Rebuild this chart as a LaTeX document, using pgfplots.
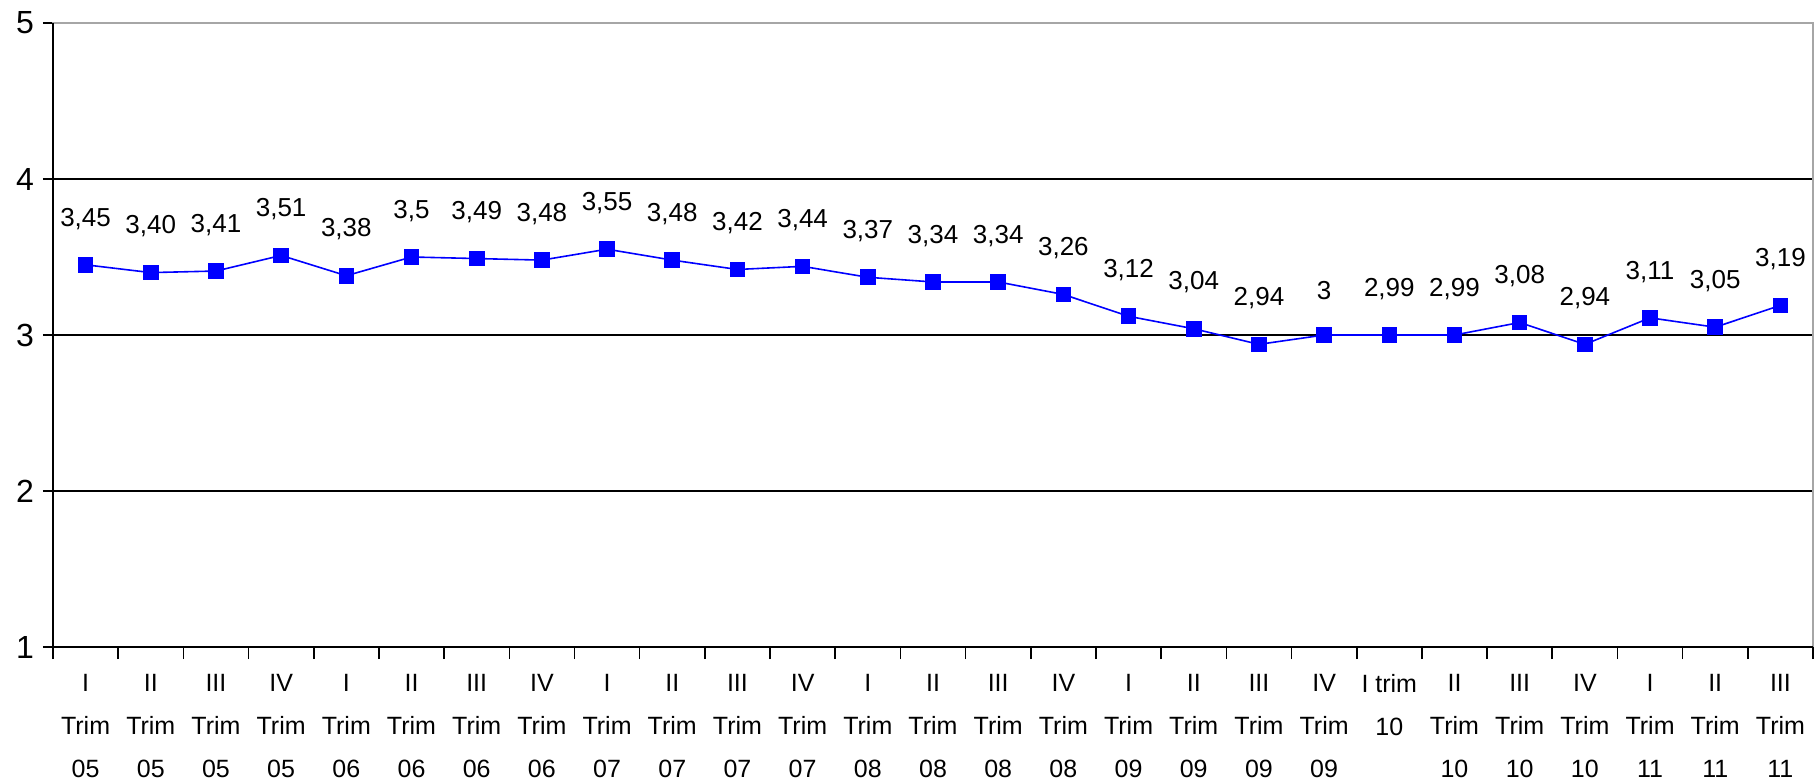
\documentclass[border=0pt]{standalone}
\usepackage{pgfplots}
\pgfplotsset{compat=1.18}
\usepackage{fontspec}
\setmainfont{Liberation Sans}
\begin{document}
\begin{tikzpicture}[x=1pt,y=1pt]
\path[use as bounding box] (-26.5,-67) rectangle (880.5,323.5);
\begin{axis}[at={(0,0)},anchor=south west,scale only axis,width=880pt,height=312pt,
 xmin=-0.5,xmax=26.5,ymin=1,ymax=5,
 ytick={1,2,3,4,5}, tick pos=left,
 ymajorgrids, grid style={black,line width=1pt},
 axis line style={gray!70,line width=1pt},
 y tick label style={font=\fontsize{16}{16}\selectfont},
 /pgf/number format/assume math mode=true,
 yticklabel style={xshift=-1pt},
 tick align=outside, major tick length=5pt, tick style={black,line width=0.8pt},
 xtick={0,...,26}, x tick style={draw=none},
 xticklabels={{I\\Trim\\05},{II\\Trim\\05},{III\\Trim\\05},{IV\\Trim\\05},{I\\Trim\\06},{II\\Trim\\06},{III\\Trim\\06},{IV\\Trim\\06},{I\\Trim\\07},{II\\Trim\\07},{III\\Trim\\07},{IV\\Trim\\07},{I\\Trim\\08},{II\\Trim\\08},{III\\Trim\\08},{IV\\Trim\\08},{I\\Trim\\09},{II\\Trim\\09},{III\\Trim\\09},{IV\\Trim\\09},{I trim\\10\\\strut},{II\\Trim\\10},{III\\Trim\\10},{IV\\Trim\\10},{I\\Trim\\11},{II\\Trim\\11},{III\\Trim\\11}},
 x tick label style={align=center,font=\fontsize{12.5}{21.5}\selectfont,anchor=north,yshift=-5pt},
 extra x ticks={-0.5,0.5,...,26.5}, extra x tick labels={},
 extra x tick style={x tick style={draw=black,line width=0.8pt},major tick length=6pt,grid=none,tick pos=left},
 clip=false,
 nodes near coords={\pgfplotspointmeta},
 point meta=explicit symbolic,
 every node near coord/.style={font=\fontsize{13}{14}\selectfont,black,anchor=south,yshift=14pt},
]
\draw[black,line width=1.3pt] (axis cs:-0.5,1) -- (axis cs:26.5,1);
\draw[black,line width=1.3pt] (axis cs:-0.5,1) -- (axis cs:-0.5,5);
\addplot[blue,line width=0.8pt,mark=square*,mark size=3.5pt] table[meta=l]{
x y l
0 3.45 3,45
1 3.40 3,40
2 3.41 3,41
3 3.51 3,51
4 3.38 3,38
5 3.50 3,5
6 3.49 3,49
7 3.48 3,48
8 3.55 3,55
9 3.48 3,48
10 3.42 3,42
11 3.44 3,44
12 3.37 3,37
13 3.34 3,34
14 3.34 3,34
15 3.26 3,26
16 3.12 3,12
17 3.04 3,04
18 2.94 2,94
19 3.00 3
20 3.00 2,99
21 3.00 2,99
22 3.08 3,08
23 2.94 2,94
24 3.11 3,11
25 3.05 3,05
26 3.19 3,19
};
\end{axis}
\end{tikzpicture}
\end{document}
